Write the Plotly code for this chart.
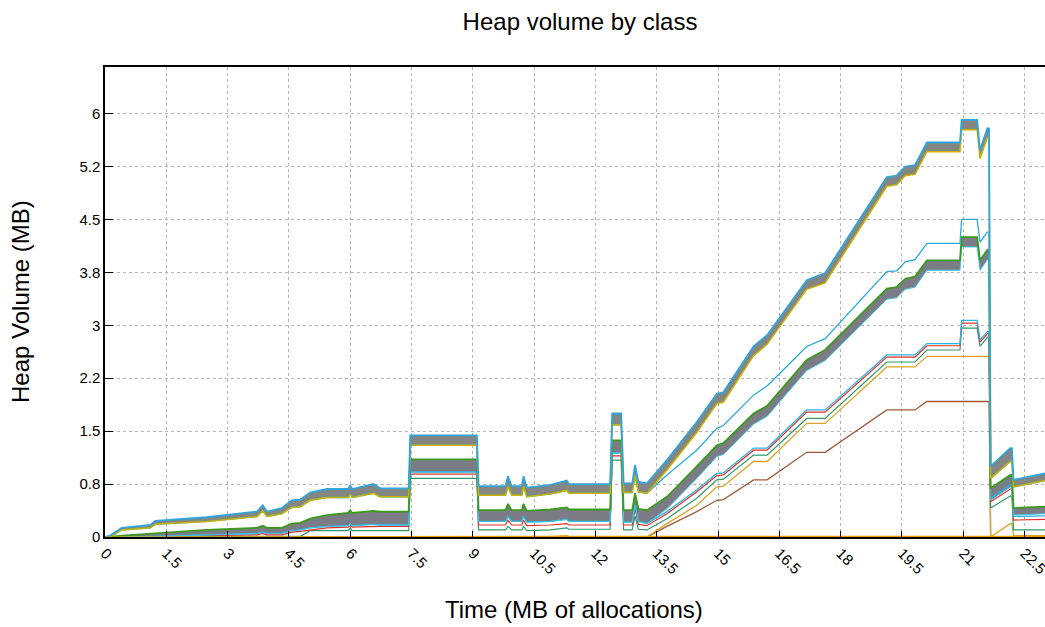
import plotly.graph_objects as go

# Time axis (MB of allocations) shared by every series
TIME = [0, 0.13, 0.41, 1.11, 1.23, 2.49, 3.72, 3.86, 3.96, 4.33,
        4.57, 4.78, 5.02, 5.43, 5.95, 6.0, 6.05, 6.57, 6.73, 7.43,
        7.47, 9.1, 9.14, 9.8, 9.86, 9.95, 10.2, 10.24, 10.32, 10.9,
        11.3, 11.35, 12.36, 12.41, 12.63, 12.69, 12.9, 12.97, 13.05, 13.26,
        13.75, 14.48, 14.97, 15.13, 15.87, 16.2, 17.17, 17.62, 19.13, 19.37,
        19.58, 19.82, 20.11, 20.92, 20.96, 21.34, 21.41, 21.59, 21.63, 21.67,
        22.15, 22.19, 22.23, 23.0]

# upper band of classes (top and bottom edge)
TOP_HI = [0, 0.02, 0.13, 0.17, 0.23, 0.28, 0.36, 0.45, 0.36, 0.41,
          0.52, 0.53, 0.63, 0.68, 0.68, 0.73, 0.68, 0.75, 0.69, 0.69,
          1.44, 1.44, 0.72, 0.72, 0.86, 0.72, 0.72, 0.86, 0.70, 0.74,
          0.80, 0.75, 0.75, 1.75, 1.75, 0.76, 0.76, 1.02, 0.78, 0.76,
          1.09, 1.63, 2.03, 2.05, 2.70, 2.86, 3.64, 3.74, 5.10, 5.12,
          5.25, 5.27, 5.59, 5.59, 5.91, 5.91, 5.48, 5.79, 5.79, 1.00,
          1.26, 1.26, 0.81, 0.90]
TOP_LO = [0, 0.0, 0.10, 0.13, 0.18, 0.22, 0.29, 0.37, 0.29, 0.33,
          0.42, 0.43, 0.52, 0.56, 0.56, 0.60, 0.56, 0.62, 0.57, 0.57,
          1.30, 1.30, 0.59, 0.59, 0.72, 0.59, 0.59, 0.72, 0.57, 0.61,
          0.66, 0.62, 0.62, 1.59, 1.59, 0.63, 0.63, 0.87, 0.64, 0.62,
          0.95, 1.48, 1.89, 1.91, 2.57, 2.73, 3.51, 3.60, 4.97, 4.99,
          5.12, 5.14, 5.46, 5.46, 5.77, 5.77, 5.36, 5.66, 5.66, 0.83,
          1.07, 1.07, 0.71, 0.80]
# single class that splits away from the upper band
SPLIT_CYAN = [0, 0.0, 0.10, 0.13, 0.18, 0.22, 0.29, 0.37, 0.29, 0.33,
              0.42, 0.43, 0.52, 0.56, 0.56, 0.60, 0.56, 0.62, 0.57, 0.57,
              1.30, 1.30, 0.59, 0.59, 0.72, 0.59, 0.59, 0.72, 0.57, 0.61,
              0.66, 0.62, 0.62, 1.59, 1.59, 0.63, 0.63, 0.87, 0.64, 0.62,
              0.88, 1.23, 1.54, 1.58, 2.01, 2.14, 2.70, 2.81, 3.76, 3.77,
              3.90, 3.93, 4.16, 4.16, 4.50, 4.50, 4.18, 4.32, 4.32, 0.83,
              1.07, 1.07, 0.71, 0.80]
# middle band of classes
MID_HI = [0, 0, 0.02, 0.04, 0.05, 0.10, 0.13, 0.16, 0.13, 0.13,
          0.19, 0.20, 0.26, 0.31, 0.34, 0.38, 0.34, 0.37, 0.36, 0.36,
          1.10, 1.10, 0.38, 0.38, 0.47, 0.38, 0.38, 0.47, 0.37, 0.39,
          0.42, 0.39, 0.39, 1.37, 1.37, 0.38, 0.38, 0.62, 0.40, 0.38,
          0.57, 1.00, 1.30, 1.33, 1.75, 1.86, 2.51, 2.65, 3.52, 3.54,
          3.66, 3.69, 3.92, 3.92, 4.25, 4.25, 3.92, 4.07, 4.07, 0.69,
          0.88, 0.88, 0.41, 0.43]
MID_LO = [0, 0, 0.0, 0.01, 0.01, 0.03, 0.05, 0.07, 0.05, 0.05,
          0.09, 0.10, 0.13, 0.15, 0.16, 0.19, 0.16, 0.18, 0.17, 0.17,
          0.92, 0.92, 0.22, 0.22, 0.29, 0.22, 0.22, 0.29, 0.21, 0.22,
          0.25, 0.22, 0.22, 1.19, 1.19, 0.21, 0.21, 0.45, 0.22, 0.19,
          0.40, 0.83, 1.14, 1.17, 1.60, 1.71, 2.36, 2.50, 3.37, 3.39,
          3.51, 3.54, 3.78, 3.78, 4.11, 4.11, 3.78, 3.93, 3.93, 0.52,
          0.71, 0.71, 0.31, 0.33]
# individual lower classes
LOW_CYAN = [0, 0, 0.0, 0.01, 0.01, 0.03, 0.05, 0.07, 0.05, 0.05,
            0.09, 0.10, 0.13, 0.15, 0.16, 0.19, 0.16, 0.18, 0.17, 0.17,
            0.92, 0.92, 0.22, 0.22, 0.29, 0.22, 0.22, 0.29, 0.21, 0.22,
            0.25, 0.22, 0.22, 1.19, 1.19, 0.21, 0.21, 0.45, 0.22, 0.19,
            0.36, 0.67, 0.90, 0.91, 1.26, 1.26, 1.80, 1.80, 2.58, 2.58,
            2.58, 2.58, 2.74, 2.74, 3.07, 3.07, 2.79, 2.91, 2.91, 0.55,
            0.74, 0.74, 0.29, 0.30]
LOW_RED = [0, 0, 0, 0.01, 0.01, 0.02, 0.03, 0.05, 0.03, 0.03,
           0.07, 0.08, 0.10, 0.13, 0.14, 0.16, 0.14, 0.15, 0.15, 0.15,
           0.89, 0.89, 0.17, 0.17, 0.24, 0.17, 0.17, 0.24, 0.16, 0.17,
           0.19, 0.17, 0.17, 1.15, 1.15, 0.17, 0.17, 0.40, 0.18, 0.16,
           0.33, 0.64, 0.87, 0.88, 1.23, 1.23, 1.77, 1.77, 2.55, 2.55,
           2.55, 2.55, 2.71, 2.71, 3.03, 3.03, 2.76, 2.88, 2.88, 0.50,
           0.68, 0.68, 0.24, 0.25]
LOW_GREEN = [0, 0, 0, 0, 0, 0, 0, 0, 0, 0,
             0.01, 0.01, 0.09, 0.09, 0.09, 0.13, 0.09, 0.09, 0.09, 0.09,
             0.83, 0.83, 0.10, 0.10, 0.15, 0.10, 0.10, 0.15, 0.09, 0.10,
             0.13, 0.11, 0.11, 1.09, 1.09, 0.10, 0.10, 0.30, 0.11, 0.10,
             0.26, 0.55, 0.81, 0.82, 1.16, 1.16, 1.68, 1.68, 2.48, 2.48,
             2.48, 2.48, 2.65, 2.65, 2.96, 2.96, 2.70, 2.83, 2.83, 0.41,
             0.58, 0.58, 0.10, 0.10]
LOW_GOLD = [0, 0, 0, 0, 0, 0, 0, 0, 0, 0,
            0, 0, 0, 0, 0, 0, 0, 0, 0, 0,
            0, 0, 0, 0, 0, 0, 0, 0, 0, 0,
            0, 0, 0, 0, 0, 0, 0, 0, 0, 0,
            0.19, 0.45, 0.71, 0.72, 1.07, 1.07, 1.61, 1.61, 2.41, 2.41,
            2.41, 2.41, 2.56, 2.56, 2.56, 2.56, 2.56, 2.56, 2.56, 0.0,
            0.19, 0.19, 0.02, 0.02]
LOW_BROWN = [0, 0, 0, 0, 0, 0, 0, 0, 0, 0,
             0, 0, 0, 0, 0, 0, 0, 0, 0, 0,
             0, 0, 0, 0, 0, 0, 0, 0, 0, 0,
             0, 0, 0, 0, 0, 0, 0, 0, 0, 0,
             0.15, 0.36, 0.52, 0.53, 0.81, 0.81, 1.20, 1.20, 1.80, 1.80,
             1.80, 1.80, 1.92, 1.92, 1.92, 1.92, 1.92, 1.92, 1.92, 0.0,
             0.0, 0.0, 0.0, 0.0]
BASE_ORANGE = [0, 0, 0, 0, 0, 0, 0, 0, 0, 0,
               0.01, 0.01, 0.01, 0.01, 0.01, 0.01, 0.01, 0.01, 0.01, 0.01,
               0.01, 0.01, 0.01, 0.01, 0.01, 0.01, 0.01, 0.01, 0.01, 0.01,
               0.02, 0.01, 0.01, 0.01, 0.01, 0.01, 0.01, 0.01, 0.01, 0.01,
               0.01, 0.01, 0.01, 0.01, 0.01, 0.01, 0.01, 0.01, 0.01, 0.01,
               0.01, 0.01, 0.01, 0.01, 0.01, 0.01, 0.01, 0.01, 0.01, 0.01,
               0.01, 0.01, 0.01, 0.01]

X_TICKS = [0, 1.5, 3, 4.5, 6, 7.5, 9, 10.5, 12, 13.5, 15, 16.5, 18, 19.5, 21, 22.5]
X_TICK_TEXT = ["0", "1.5", "3", "4.5", "6", "7.5", "9", "10.5", "12", "13.5",
               "15", "16.5", "18", "19.5", "21", "22.5"]
Y_TICKS = [0, 0.75, 1.5, 2.25, 3, 3.75, 4.5, 5.25, 6]
Y_TICK_TEXT = ["0", "0.8", "1.5", "2.2", "3", "3.8", "4.5", "5.2", "6"]

FONT = "Liberation Sans, Arial, sans-serif"

# canvas wider than the 1045 px window so the plot runs off the right edge,
# like the reference
FIG_W, FIG_H = 1075, 627
PLOT_L, PLOT_R, PLOT_T, PLOT_B = 105, 30, 67, 90
PLOT_W = FIG_W - PLOT_L - PLOT_R

fig = go.Figure()


def band(lo, hi, color):
    fig.add_trace(go.Scatter(x=TIME, y=lo, mode="lines", line=dict(width=0),
                             hoverinfo="skip", showlegend=False))
    fig.add_trace(go.Scatter(x=TIME, y=hi, mode="lines", line=dict(width=0),
                             fill="tonexty", fillcolor=color,
                             hoverinfo="skip", showlegend=False))


def line(y, color, width=1.0):
    fig.add_trace(go.Scatter(x=TIME, y=y, mode="lines",
                             line=dict(color=color, width=width),
                             hoverinfo="skip", showlegend=False))


band(TOP_LO, TOP_HI, "#848684")
band(MID_LO, MID_HI, "#7c7c86")

line(LOW_BROWN, "#a0583a", 1.3)
line(LOW_GOLD, "#d8a428", 1.3)
line(LOW_GREEN, "#2e9a6a", 1.2)
line(LOW_RED, "#e0302a", 1.2)
line(LOW_CYAN, "#2bb4e4", 1.3)
line(MID_LO, "#3cc4e8", 1.0)
line(MID_HI, "#3a9a1a", 1.8)
line(SPLIT_CYAN, "#2aa8de", 1.3)
line(TOP_LO, "#c8b400", 1.5)
line(TOP_HI, "#30a4dc", 1.8)
line(BASE_ORANGE, "#e8a000", 1.2)

fig.update_layout(
    width=FIG_W, height=FIG_H,
    margin=dict(l=PLOT_L, r=PLOT_R, t=PLOT_T, b=PLOT_B),
    paper_bgcolor="white", plot_bgcolor="white",
    font=dict(family=FONT, size=15, color="black"),
    title=dict(text="Heap volume by class", x=580 / FIG_W, xref="container",
               xanchor="center", y=0.965, yanchor="middle",
               font=dict(family=FONT, size=24)),
    showlegend=False,
    hovermode=False,
)
# the data range is 23 MB over the 940 px that are visible
fig.update_xaxes(
    range=[0, 23.0 * PLOT_W / 940.0], tickvals=X_TICKS, ticktext=X_TICK_TEXT,
    tickangle=45,
    ticks="inside", ticklen=6, tickcolor="black",
    showline=True, linecolor="black", linewidth=1.5, mirror=True,
    showgrid=True, gridcolor="#b4b4b4", griddash="dot", gridwidth=1,
    zeroline=False, tickfont=dict(family=FONT, size=15), automargin=False,
)
fig.update_yaxes(
    range=[0, 6.66], tickvals=Y_TICKS, ticktext=Y_TICK_TEXT,
    ticks="inside", ticklen=8, tickcolor="black",
    showline=True, linecolor="black", linewidth=1.5,
    showgrid=True, gridcolor="#b4b4b4", griddash="dot", gridwidth=1,
    zeroline=False, tickfont=dict(family=FONT, size=15), automargin=False,
)
fig.add_annotation(text="Time (MB of allocations)", xref="paper", yref="paper",
                   x=(574 - PLOT_L) / PLOT_W, y=-0.155, showarrow=False,
                   xanchor="center", yanchor="middle",
                   font=dict(family=FONT, size=24))
fig.add_annotation(text="Heap Volume (MB)", xref="paper", yref="paper",
                   x=(20 - PLOT_L) / PLOT_W, y=0.50, showarrow=False, textangle=-90,
                   xanchor="center", yanchor="middle",
                   font=dict(family=FONT, size=24))

fig.write_html(
    "out.html",
    config={"displayModeBar": False},
    post_script="document.body.style.margin='0';document.body.style.overflow='hidden';",
)
